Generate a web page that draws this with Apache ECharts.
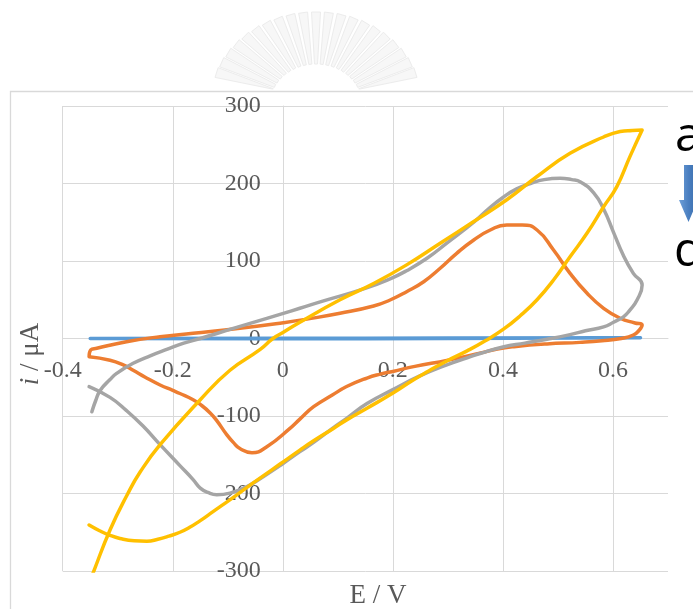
<!DOCTYPE html>
<html>
<head>
<meta charset="utf-8">
<title>Cyclic voltammograms</title>
<script src="https://cdn.jsdelivr.net/npm/echarts@6.0.0/dist/echarts.min.js"></script>
<style>
  html, body { margin: 0; padding: 0; background: #ffffff; }
  #chart { width: 693px; height: 609px; }
</style>
</head>
<body>
<div id="chart"></div>
<script>
// Potential (V) and current (µA) for each voltammogram, in scan order.
const potentialA = [-0.35, 0.0, 0.3, 0.65, 0.3, 0.0, -0.35];
const currentA   = [0, 0.3, 0.5, 1, 0, -0.3, 0];

const potentialB = [-0.352, -0.349, -0.338, -0.284, -0.223, -0.163, -0.078, 0.001, 0.044, 0.104,
  0.165, 0.195, 0.225, 0.256, 0.286, 0.316, 0.347, 0.377, 0.407, 0.435,
  0.462, 0.492, 0.522, 0.553, 0.583, 0.613, 0.640, 0.653, 0.648, 0.637,
  0.615, 0.580, 0.540, 0.480, 0.420, 0.390, 0.360, 0.300, 0.240, 0.200,
  0.177, 0.153, 0.116, 0.090, 0.056, 0.031, 0.013, -0.029, -0.056, -0.078,
  -0.090, -0.102, -0.120, -0.132, -0.150, -0.163, -0.187, -0.200, -0.223, -0.250,
  -0.272, -0.290, -0.314, -0.352];
const currentB = [-23.5, -14.8, -12.6, -4.1, 2.3, 6.7, 13.2, 20.4, 25, 32.5,
  41.9, 49.7, 60.4, 73.3, 90.6, 109.9, 127.1, 140, 146.5, 146.5,
  140, 114.2, 84.1, 58.3, 38.9, 26.1, 20, 17.4, 11, 4.5,
  0, -3, -5, -7, -10.5, -13.5, -18.5, -28, -36, -42.5,
  -46, -51, -62, -73, -88, -104, -116, -139.6, -147.4, -142,
  -134, -124, -106, -96, -85, -79, -71, -67, -60, -50,
  -41, -34, -28, -23.5];

const potentialC = [-0.347, -0.340, -0.332, -0.314, -0.302, -0.272, -0.240, -0.211, -0.180, -0.150,
  -0.090, -0.029, 0.001, 0.031, 0.074, 0.147, 0.195, 0.225, 0.262, 0.298,
  0.347, 0.375, 0.400, 0.425, 0.450, 0.475, 0.504, 0.525, 0.541, 0.565,
  0.583, 0.601, 0.619, 0.637, 0.653, 0.644, 0.630, 0.619, 0.601, 0.583,
  0.550, 0.522, 0.480, 0.440, 0.400, 0.360, 0.335, 0.298, 0.250, 0.200,
  0.153, 0.116, 0.092, 0.056, 0.031, 0.001, -0.035, -0.065, -0.096, -0.120,
  -0.135, -0.150, -0.163, -0.187, -0.223, -0.254, -0.284, -0.314, -0.352];
const currentC = [-94.5, -80, -67, -53, -45, -32, -22, -14, -6, 0,
  13, 26, 32.5, 39, 48.5, 64, 77, 87.5, 103.5, 123,
  150, 168, 182, 193, 200, 205, 206.7, 205, 202, 188,
  167, 137, 107, 84, 69, 50, 36, 28, 21, 15,
  10, 5, -1, -6, -11, -19, -25, -34, -48, -66,
  -84, -103, -115, -134, -146, -161, -178, -191, -199.5, -201.5,
  -199, -193, -182, -164, -137, -113, -93, -76, -62];

const potentialD = [-0.350, -0.344, -0.314, -0.283, -0.259, -0.223, -0.150, -0.096, -0.041, -0.018,
  0.001, 0.031, 0.104, 0.165, 0.225, 0.286, 0.347, 0.407, 0.462, 0.522,
  0.583, 0.613, 0.635, 0.653, 0.631, 0.607, 0.583, 0.553, 0.522, 0.492,
  0.462, 0.431, 0.401, 0.368, 0.335, 0.298, 0.265, 0.237, 0.201, 0.153,
  0.116, 0.092, 0.056, 0.031, -0.005, -0.035, -0.065, -0.086, -0.110, -0.132,
  -0.150, -0.170, -0.187, -0.207, -0.227, -0.247, -0.270, -0.296, -0.314, -0.333,
  -0.352];
const currentD = [-312, -301, -247, -202, -172, -137, -79, -41, -14, 0,
  8, 21, 50, 71, 95, 123, 151, 179, 209, 239,
  260, 267, 268.5, 269, 235, 196, 170, 136, 105.5, 75.5,
  50, 29, 12, -3, -16, -29, -42, -53.5, -70, -90,
  -105, -116, -132, -144, -162, -177, -192, -203, -215, -226,
  -235, -244, -250, -255, -259, -261.5, -261, -258, -254, -248,
  -240.6];

const seriesNames = ['a', 'b', 'c', 'd'];
const seriesColors = ['#5b9bd5', '#ed7d31', '#a5a5a5', '#ffc000'];
const legendFirst = 'a';
const legendLast = 'd';
const xTitle = 'E / V';
const yTitleVar = 'i';
const yTitleUnit = ' / μA';

const pairUp = (xs, ys) => xs.map((x, k) => [x, ys[k]]);
const curves = [
  pairUp(potentialA, currentA),
  pairUp(potentialB, currentB),
  pairUp(potentialC, currentC),
  pairUp(potentialD, currentD)
];

const serifFont = '"Liberation Serif", "DejaVu Serif", serif';
const gridColor = '#d9d9d9';
const labelColor = '#595959';
const gridBox = { left: 62.7, top: 106, width: 605.3, height: 465 };

// faint sunburst emblem above the frame
function emblemRays() {
  const out = [];
  const cx = 316, cy = 104, n = 21;
  for (let k = 0; k < n; k++) {
    const a = (20 + k * (140 / (n - 1))) * Math.PI / 180;
    const r0 = 40, r1 = 92;
    const ux = Math.cos(a) * 1.15, uy = -Math.sin(a);
    const px = Math.sin(a), py = Math.cos(a) * 1.15;
    const w0 = 1.5, w1 = 4.5;
    out.push({
      type: 'polygon',
      silent: true,
      z: -10,
      shape: {
        points: [
          [cx + ux * r0 - px * w0, Math.min(89, cy + uy * r0 - py * w0)],
          [cx + ux * r1 - px * w1, cy + uy * r1 - py * w1],
          [cx + ux * r1 + px * w1, cy + uy * r1 + py * w1],
          [cx + ux * r0 + px * w0, Math.min(89, cy + uy * r0 + py * w0)]
        ]
      },
      style: { fill: '#f7f7f7', stroke: '#ececec', lineWidth: 1 }
    });
  }
  return out;
}

const chart = echarts.init(document.getElementById('chart'), null, { renderer: 'canvas' });

const option = {
  backgroundColor: '#ffffff',
  animation: false,
  grid: {
    left: gridBox.left, top: gridBox.top, width: gridBox.width, height: gridBox.height,
    containLabel: false, outerBoundsMode: 'none'
  },
  xAxis: {
    type: 'value',
    min: -0.4, max: 0.7, interval: 0.2,
    position: 'bottom',
    axisLine: { onZero: false, lineStyle: { color: gridColor, width: 1 } },
    axisTick: { show: false },
    axisLabel: {
      margin: 20, color: labelColor, fontFamily: serifFont, fontSize: 24,
      showMaxLabel: false, hideOverlap: false
    },
    splitLine: {
      show: true,
      lineStyle: { color: [gridColor, gridColor, gridColor, gridColor, gridColor, gridColor, 'rgba(0,0,0,0)'], width: 1 }
    }
  },
  yAxis: {
    type: 'value',
    min: -300, max: 300, interval: 100,
    position: 'left',
    axisLine: { onZero: false, lineStyle: { color: gridColor, width: 1 } },
    axisTick: { show: false },
    axisLabel: {
      margin: 22, color: labelColor, fontFamily: serifFont, fontSize: 24, hideOverlap: false
    },
    splitLine: { show: true, lineStyle: { color: gridColor, width: 1 } }
  },
  series: curves.map((pts, k) => ({
    name: seriesNames[k],
    type: 'line',
    data: pts,
    showSymbol: false,
    symbol: 'none',
    smooth: 0.5,
    clip: true,
    lineStyle: { color: seriesColors[k], width: 3.5, cap: 'round', join: 'round' },
    itemStyle: { color: seriesColors[k] },
    z: 2 + k
  })),
  graphic: [
    ...emblemRays(),
    {
      type: 'rect', silent: true, z: 0,
      shape: { x: 10.5, y: 91.5, width: 720, height: 600 },
      style: { fill: 'none', stroke: gridColor, lineWidth: 1.3 }
    },
    {
      type: 'text', silent: true, z: 10,
      x: 378, y: 596,
      style: {
        text: xTitle, fill: labelColor, fontFamily: serifFont, fontSize: 27,
        align: 'center', verticalAlign: 'middle'
      }
    },
    {
      type: 'text', silent: true, z: 10,
      x: 31, y: 354, rotation: Math.PI / 2,
      style: {
        text: '{v|' + yTitleVar + '}{u|' + yTitleUnit + '}',
        align: 'center', verticalAlign: 'middle',
        rich: {
          v: { fill: labelColor, fontFamily: serifFont, fontSize: 27, fontStyle: 'italic' },
          u: { fill: labelColor, fontFamily: serifFont, fontSize: 27 }
        }
      }
    },
    {
      type: 'text', silent: true, z: 10,
      x: 675, y: 137,
      style: { text: legendFirst, fill: '#000000', fontFamily: '"Open Sans", sans-serif', fontSize: 48, verticalAlign: 'middle' }
    },
    {
      type: 'polygon', silent: true, z: 10,
      shape: { points: [[684, 165], [693, 165], [693, 200], [698, 200], [688.5, 222], [679, 200], [684, 200]] },
      style: {
        fill: new echarts.graphic.LinearGradient(0, 0, 1, 0, [
          { offset: 0, color: '#6e9fd8' },
          { offset: 0.5, color: '#4a7fc0' },
          { offset: 1, color: '#3a6cab' }
        ])
      }
    },
    {
      type: 'text', silent: true, z: 10,
      x: 674, y: 252,
      style: { text: legendLast, fill: '#000000', fontFamily: '"Open Sans", sans-serif', fontSize: 48, verticalAlign: 'middle' }
    }
  ]
};

chart.setOption(option);

// move both axes (line and labels) so they cross at the data origin
const origin = chart.convertToPixel({ gridIndex: 0 }, [0, 0]);
chart.setOption({
  xAxis: { offset: origin[1] - (gridBox.top + gridBox.height) },
  yAxis: { offset: gridBox.left - origin[0] }
});
</script>
</body>
</html>
